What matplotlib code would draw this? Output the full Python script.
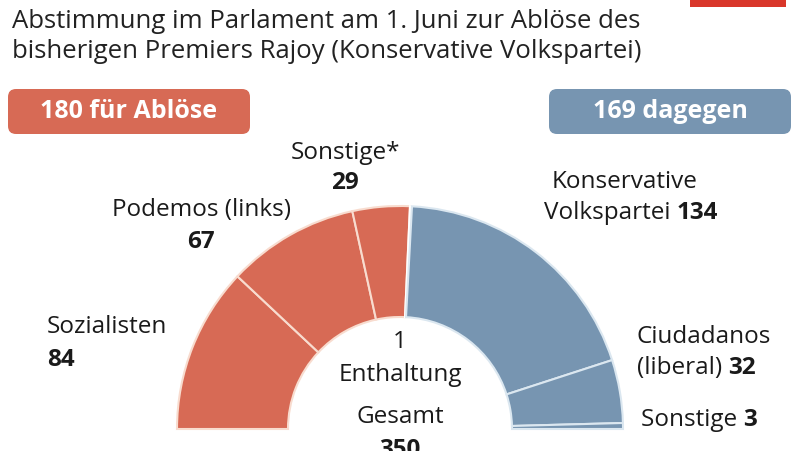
import matplotlib.pyplot as plt
from matplotlib.patches import FancyBboxPatch, Rectangle

plt.rcParams['font.family'] = ['Open Sans', 'DejaVu Sans']

# seats, from left to right along the half circle
parties = ['Sozialisten', 'Podemos', 'Sonstige_pro', 'Enthaltung', 'Konservative', 'Ciudadanos', 'Sonstige_contra']
seats = [84, 67, 29, 1, 134, 32, 3]
pro_total = 180
contra_total = 169
total = 350

red = '#d76a55'
blue = '#7795b1'
colors = [red, red, red, 'white', blue, blue, blue]
edges = ['#f8dccf'] * 3 + ['white'] + ['#dbe7f0'] * 3

fig = plt.figure(figsize=(8, 4.52), dpi=100)
ax = fig.add_axes([0, 0, 1, 1])

cx, cy = 400, 452 - 430   # centre of the half circle (pixel coords, y up)
r_out, r_in = 223, 112

wedges, _ = ax.pie(seats + [sum(seats)], colors=colors + ['none'],
                   startangle=180, counterclock=False,
                   center=(cx, cy), radius=r_out, frame=True,
                   wedgeprops=dict(width=r_out - r_in, linewidth=1.5))
for w, ec in zip(wedges, edges):
    w.set_edgecolor(ec)
wedges[-1].set_visible(False)

ax.set_xlim(0, 800)
ax.set_ylim(0, 452)
ax.set_aspect('equal')
ax.axis('off')

def Y(y):
    return 452 - y

# title
ax.text(12, Y(21), 'Abstimmung im Parlament am 1. Juni zur Ablöse des', fontsize=18.5,
        color='#222222', va='center', ha='left')
ax.text(12, Y(51), 'bisherigen Premiers Rajoy (Konservative Volkspartei)', fontsize=18.5,
        color='#222222', va='center', ha='left')

# red logo bar at top right
ax.add_patch(Rectangle((690, Y(8)), 96, 8, color='#d9372a', lw=0))

# summary boxes
for x0, col, txt in [(8, red, f'{pro_total} für Ablöse'), (549, blue, f'{contra_total} dagegen')]:
    ax.add_patch(FancyBboxPatch((x0, Y(135)), 242, 45,
                                boxstyle='round,pad=0,rounding_size=8', fc=col, ec='none'))
    ax.text(x0 + 121, Y(112), txt, color='white', fontsize=18, fontweight='bold',
            ha='center', va='center')

fs = 17.5
tc = '#1a1a1a'
# left labels
ax.text(345, Y(153), 'Sonstige*', fontsize=fs, color=tc, ha='center', va='center')
ax.text(345, Y(183), str(seats[2]), fontsize=fs, color=tc, ha='center', va='center', fontweight='bold')
ax.text(201, Y(210), 'Podemos (links)', fontsize=fs, color=tc, ha='center', va='center')
ax.text(201, Y(242), str(seats[1]), fontsize=fs, color=tc, ha='center', va='center', fontweight='bold')
ax.text(47, Y(327), 'Sozialisten', fontsize=fs, color=tc, ha='left', va='center')
ax.text(47, Y(360), str(seats[0]), fontsize=fs, color=tc, ha='left', va='center', fontweight='bold')

# right labels
ax.text(625, Y(182), 'Konservative', fontsize=fs, color=tc, ha='center', va='center')
t = ax.text(718, Y(213), str(seats[4]), fontsize=fs, color=tc, ha='right', va='center', fontweight='bold')
ax.annotate('Volkspartei ', xycoords=t, xy=(0, 0.5), va='center', ha='right',
            fontsize=fs, color=tc)
ax.text(637, Y(337), 'Ciudadanos', fontsize=fs, color=tc, ha='left', va='center')
t = ax.text(637, Y(368), '(liberal) ', fontsize=fs, color=tc, ha='left', va='center')
ax.annotate(str(seats[5]), xycoords=t, xy=(1, 0.5), va='center', ha='left',
            fontsize=fs, color=tc, fontweight='bold')
t = ax.text(641, Y(420), 'Sonstige ', fontsize=fs, color=tc, ha='left', va='center')
ax.annotate(str(seats[6]), xycoords=t, xy=(1, 0.5), va='center', ha='left',
            fontsize=fs, color=tc, fontweight='bold')

# centre
ax.text(cx, Y(342), str(seats[3]), fontsize=fs, color=tc, ha='center', va='center')
ax.text(cx, Y(375), 'Enthaltung', fontsize=fs, color=tc, ha='center', va='center')
ax.text(cx, Y(417), 'Gesamt', fontsize=fs, color=tc, ha='center', va='center')
ax.text(cx, Y(450), str(total), fontsize=fs, color=tc, ha='center', va='center', fontweight='bold')

fig.savefig('out.png', dpi=100)
